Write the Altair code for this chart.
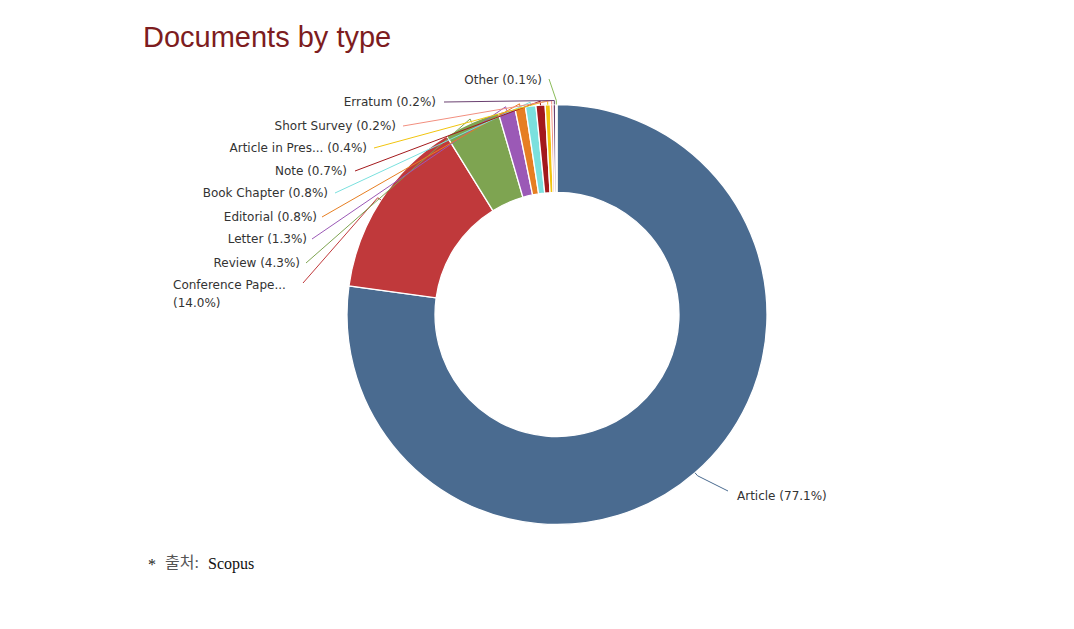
import math
import altair as alt
import pandas as pd

# ---------------- data ----------------
CATEGORIES = ["Article", "Conference Paper", "Review", "Letter", "Editorial",
              "Book Chapter", "Note", "Article in Press", "Short Survey",
              "Erratum", "Other"]
LABELS = ["Article (77.1%)", "Conference Pape...\n(14.0%)", "Review (4.3%)",
          "Letter (1.3%)", "Editorial (0.8%)", "Book Chapter (0.8%)",
          "Note (0.7%)", "Article in Pres... (0.4%)", "Short Survey (0.2%)",
          "Erratum (0.2%)", "Other (0.1%)"]
SHARES = [77.1, 14.0, 4.3, 1.3, 0.8, 0.8, 0.7, 0.4, 0.2, 0.2, 0.1]
COLORS = ["#4a6b90", "#c0393b", "#7ea451", "#9b59b6", "#e67e22", "#7ae0de",
          "#a3191c", "#f1c40f", "#f28f7f", "#6a4070", "#8bbc5a"]

# ---------------- layout (page pixels) ----------------
W, H = 1074, 629
PAD_LEFT = 40
CX, CY = PAD_LEFT + (W - PAD_LEFT) / 2, H / 2
R_OUT, R_IN = 210, 122
BREAK = 4
LABEL_X = [737, 173, 300, 307, 317, 328, 347, 367, 396, 436, 542]
LABEL_Y = [496, 285, 263, 239, 217, 193, 171, 148, 126, 102, 80]
LABEL_ALIGN = ["left", "left", "right", "right", "right", "right", "right",
               "right", "right", "right", "right"]
LINE_X = [728, 303, 306, 312, 322, 335, 355, 374, 403, 444, 549]
LINE_Y = [491, 283, 263, 239, 217, 193, 171, 148, 126, 102, 79]

total = sum(SHARES)
slices = pd.DataFrame({"cat": CATEGORIES, "share": SHARES, "idx": range(len(CATEGORIES))})

rows_lines = []
rows_labels = []
cum = 0.0
for i, (cat, s) in enumerate(zip(CATEGORIES, SHARES)):
    mid = (cum + s / 2) / total * 2 * math.pi
    cum += s
    px, py = CX + R_OUT * math.sin(mid), CY - R_OUT * math.cos(mid)
    bx, by = CX + (R_OUT + BREAK) * math.sin(mid), CY - (R_OUT + BREAK) * math.cos(mid)
    for step, (x, y) in enumerate([(LINE_X[i], LINE_Y[i]), (bx, by), (px, py)]):
        rows_lines.append({"cat": cat, "step": step, "x": x, "y": y})
    rows_labels.append({"cat": cat, "label": LABELS[i], "x": LABEL_X[i],
                        "y": LABEL_Y[i], "align": LABEL_ALIGN[i]})
lines = pd.DataFrame(rows_lines)
labels = pd.DataFrame(rows_labels)

NB = "\u00a0"
annot = pd.DataFrame([
    {"text": "Documents by type", "x": 143, "y": 47},
])
foot = pd.DataFrame([
    {"text": "*", "x": 148, "y": 565, "c": "#222222"},
    {"text": "출처:", "x": 165, "y": 563, "c": "#555555"},
    {"text": "Scopus", "x": 208, "y": 564, "c": "#111111"},
])

xs = alt.Scale(domain=[PAD_LEFT, W], nice=False, zero=False)
ys = alt.Scale(domain=[H, 0], nice=False, zero=False)
cs = alt.Scale(domain=CATEGORIES, range=COLORS)

arc = alt.Chart(slices).mark_arc(innerRadius=R_IN, outerRadius=R_OUT,
                                 stroke="white", strokeWidth=1.3).encode(
    theta=alt.Theta("share:Q", stack=True),
    order=alt.Order("idx:Q"),
    color=alt.Color("cat:N", scale=cs, legend=None),
)

conn = alt.Chart(lines).mark_line(strokeWidth=1).encode(
    x=alt.X("x:Q", scale=xs, axis=None),
    y=alt.Y("y:Q", scale=ys, axis=None),
    detail="cat:N",
    order="step:Q",
    color=alt.Color("cat:N", scale=cs, legend=None),
)

lab_r = alt.Chart(labels).transform_filter(alt.datum.align == "right").mark_text(
    align="right", baseline="middle", font="DejaVu Sans", fontSize=12,
    color="#333333", lineBreak="\n", lineHeight=18).encode(
    x=alt.X("x:Q", scale=xs, axis=None),
    y=alt.Y("y:Q", scale=ys, axis=None),
    text="label:N",
)
lab_l = alt.Chart(labels).transform_filter(alt.datum.align == "left").mark_text(
    align="left", baseline="middle", font="DejaVu Sans", fontSize=12,
    color="#333333", lineBreak="\n", lineHeight=18).encode(
    x=alt.X("x:Q", scale=xs, axis=None),
    y=alt.Y("y:Q", scale=ys, axis=None),
    text="label:N",
)

title = alt.Chart(annot).mark_text(
    align="left", baseline="alphabetic", font="Liberation Sans", fontSize=29,
    color="#7d1c20").encode(
    x=alt.X("x:Q", scale=xs, axis=None),
    y=alt.Y("y:Q", scale=ys, axis=None),
    text="text:N",
)

footnote = alt.Chart(foot).mark_text(
    align="left", baseline="middle", font="Liberation Serif, Noto Sans CJK KR",
    fontSize=16).encode(
    x=alt.X("x:Q", scale=xs, axis=None),
    y=alt.Y("y:Q", scale=ys, axis=None),
    text="text:N",
    color=alt.Color("c:N", scale=None),
)

chart = alt.layer(arc, conn, lab_r, lab_l, title, footnote).properties(
    width=W - PAD_LEFT, height=H,
    autosize=alt.AutoSizeParams(type="none"),
    padding={"left": PAD_LEFT, "top": 0, "right": 0, "bottom": 0},
    background="white",
).configure_view(strokeWidth=0)

chart.save("out.html", embed_options={"renderer": "svg", "actions": False})
